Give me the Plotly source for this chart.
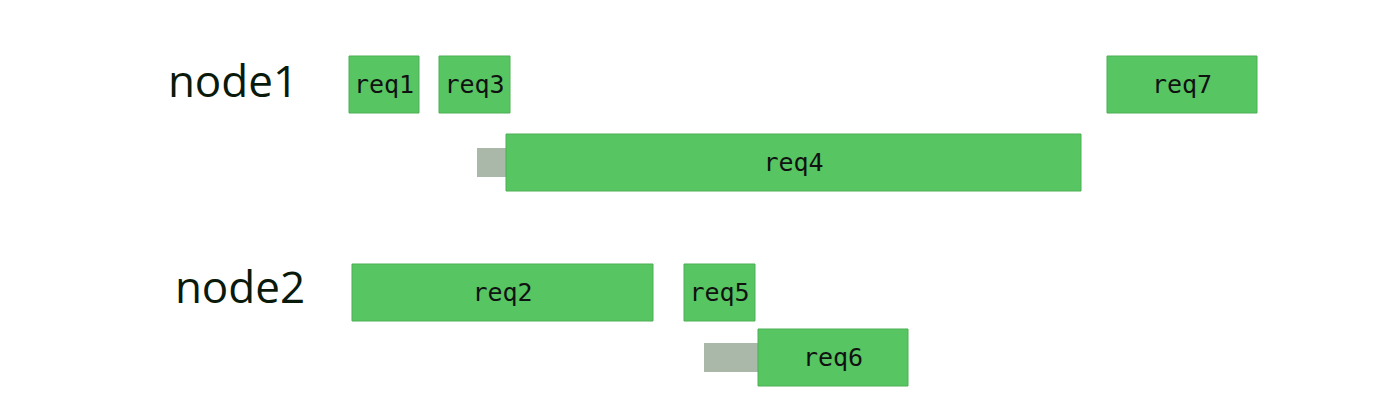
import plotly.graph_objects as go

# request bars: name, start, end, row centre (pixel-like units)
req_names = ["req1", "req3", "req7", "req4", "req2", "req5", "req6"]
req_start = [349, 439, 1107, 506, 352, 684, 758]
req_end = [419, 510, 1257, 1081, 653, 755, 908]
req_row = [84.5, 84.5, 84.5, 162.5, 292.5, 292.5, 357.5]

# waiting (gray) bars
wait_start = [477, 704]
wait_end = [506, 758]
wait_row = [162.5, 357.5]

node_names = ["node1", "node2"]
node_x = [233, 240]
node_y = [86, 292]

fig = go.Figure()
fig.add_trace(go.Bar(
    y=wait_row, x=[e - s for s, e in zip(wait_start, wait_end)], base=wait_start,
    orientation="h", width=29, marker=dict(color="#AAB8A9", line_width=0),
    hoverinfo="skip"))
fig.add_trace(go.Bar(
    y=req_row, x=[e - s for s, e in zip(req_start, req_end)], base=req_start,
    orientation="h", width=57, text=req_names, textposition="inside",
    insidetextanchor="middle", constraintext="none",
    textfont=dict(family="DejaVu Sans Mono, monospace", size=25, color="#111"),
    marker=dict(color="#57C562", line=dict(color="#4caf55", width=1))))
fig.add_trace(go.Scatter(
    x=node_x, y=node_y, mode="text", text=node_names,
    textfont=dict(family="Open Sans, sans-serif", size=44, color="#0a1a0a")))

# page body adds an 8px offset, so shift the ranges to compensate
fig.update_layout(
    width=1400, height=416, margin=dict(l=0, r=0, t=0, b=0),
    plot_bgcolor="white", paper_bgcolor="white", showlegend=False,
    barmode="overlay",
    xaxis=dict(range=[8, 1408], visible=False),
    yaxis=dict(range=[424, 8], visible=False),
)
fig.write_html("out.html")
